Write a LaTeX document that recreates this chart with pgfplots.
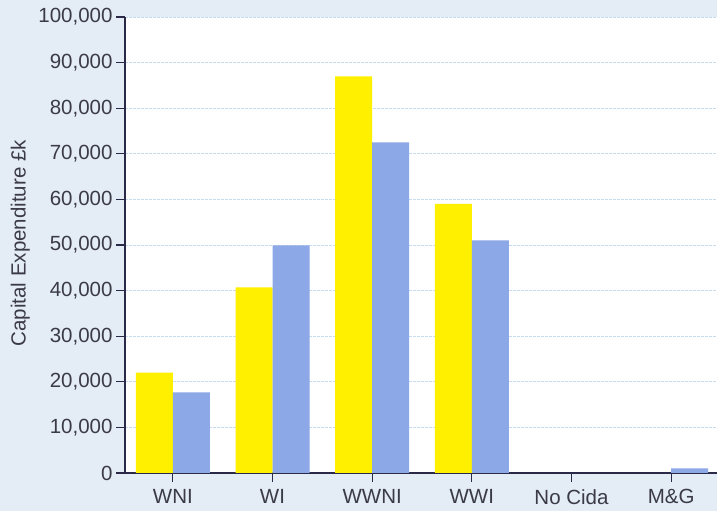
\documentclass[border=0pt]{standalone}
\usepackage{pgfplots}
\pgfplotsset{compat=1.18}
\usepackage{fontspec}
\setmainfont{Liberation Sans}
\definecolor{bgblue}{RGB}{228,236,245}
\definecolor{baryellow}{RGB}{255,240,0}
\definecolor{barblue}{RGB}{140,168,230}
\definecolor{axiscol}{RGB}{42,42,72}
\definecolor{txtcol}{RGB}{58,58,72}
\definecolor{gridcol}{RGB}{200,220,240}
\begin{document}
\begin{tikzpicture}
\fill[bgblue] (-125pt,-38pt) rectangle (592pt,473pt);
\path[use as bounding box] (-125pt,-38pt) rectangle (592pt,473pt);
\begin{axis}[
  scale only axis,
  width=592pt, height=456pt,
  xmin=-0.48, xmax=5.46,
  ymin=0, ymax=100000,
  axis background/.style={fill=white},
  ybar=0pt, bar width=37pt,
  axis x line*=bottom, axis y line*=left,
  axis line style={draw=axiscol, line width=1.4pt},
  tick style={draw=axiscol, line width=1.2pt},
  tick align=outside,
  major tick length=9pt,
  xtick={0,1,2,3,4,5},
  xticklabels={WNI,WI,WWNI,WWI,No Cida,M\&G},
  ytick={0,10000,20000,30000,40000,50000,60000,70000,80000,90000,100000},
  yticklabels={0,{10,000},{20,000},{30,000},{40,000},{50,000},{60,000},{70,000},{80,000},{90,000},{100,000}},
  scaled y ticks=false,
  ticklabel style={font=\fontsize{20.5}{24}\selectfont, text=txtcol},
  xticklabel style={yshift=-4pt},
  ymajorgrids,
  major grid style={draw=gridcol, line width=0.8pt, dash pattern=on 3pt off 1pt},
  ylabel={Capital Expenditure £k},
  ylabel style={font=\fontsize{20.5}{24}\selectfont, text=txtcol},
  every axis y label/.append style={at={(axis description cs:-0.177,0.504)}, anchor=center},
  clip=false,
]
\addplot[fill=baryellow, draw=none] coordinates {(0,22000) (1,40700) (2,87000) (3,59000)};
\addplot[fill=barblue, draw=none] coordinates {(0,17700) (1,49900) (2,72500) (3,51000) (5,1000)};
\end{axis}
\end{tikzpicture}
\end{document}
